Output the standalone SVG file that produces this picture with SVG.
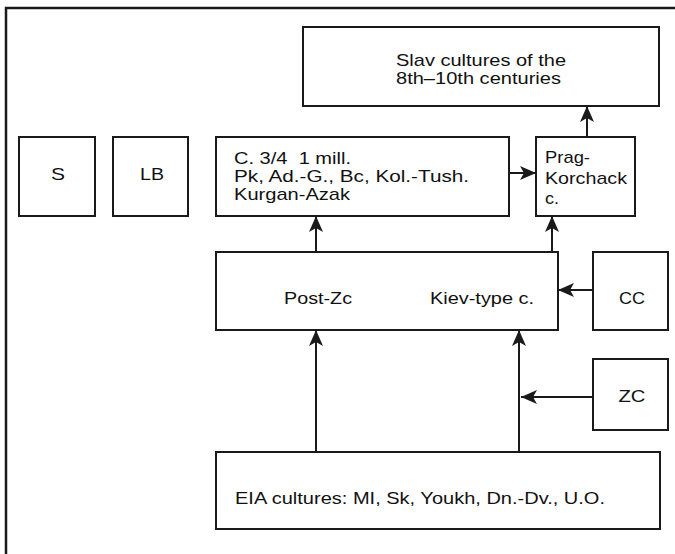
<svg xmlns="http://www.w3.org/2000/svg" width="675" height="554" viewBox="0 0 675 554">
<style>
.box{fill:#fff;stroke:#1a1a1a;stroke-width:2}
.frame{fill:none;stroke:#1a1a1a;stroke-width:2.5}
.t{font-family:"Liberation Sans",Arial,Helvetica,sans-serif;font-size:17px;fill:#111}
.m{text-anchor:middle}
.c{fill:none;stroke:#1a1a1a;stroke-width:2;marker-end:url(#ah)}
</style>
<defs>
<marker id="ah" markerUnits="userSpaceOnUse" markerWidth="17" markerHeight="14" refX="16" refY="7" orient="auto">
<path d="M0,0 L16,7 L0,14 L4,7 z" fill="#1a1a1a"/>
</marker>
</defs>
<rect width="675" height="554" fill="#fff"/>
<path class="frame" d="M6,554 V8 H675"/>
<g id="slav">
<rect class="box" x="303" y="27" width="356" height="79"/>
<text class="t" x="396" y="66" textLength="170" lengthAdjust="spacingAndGlyphs">Slav cultures of the</text>
<text class="t" x="396" y="84" textLength="165" lengthAdjust="spacingAndGlyphs">8th–10th centuries</text>
</g>
<g id="s">
<rect class="box" x="19" y="137" width="76" height="79"/>
<text class="t m" x="58" y="180" textLength="14" lengthAdjust="spacingAndGlyphs">S</text>
</g>
<g id="lb">
<rect class="box" x="113" y="137" width="75" height="79"/>
<text class="t m" x="152" y="180" textLength="24" lengthAdjust="spacingAndGlyphs">LB</text>
</g>
<g id="c34">
<rect class="box" x="216" y="137" width="293" height="79"/>
<text class="t" x="234" y="164" textLength="117" lengthAdjust="spacingAndGlyphs" xml:space="preserve">C. 3/4  1 mill.</text>
<text class="t" x="234" y="182" textLength="235" lengthAdjust="spacingAndGlyphs">Pk, Ad.-G., Bc, Kol.-Tush.</text>
<text class="t" x="234" y="200" textLength="116" lengthAdjust="spacingAndGlyphs">Kurgan-Azak</text>
</g>
<g id="prag">
<rect class="box" x="536" y="137" width="99" height="79"/>
<text class="t" x="545" y="163" textLength="45" lengthAdjust="spacingAndGlyphs">Prag-</text>
<text class="t" x="545" y="184" textLength="82" lengthAdjust="spacingAndGlyphs">Korchack</text>
<text class="t" x="545" y="204" textLength="14" lengthAdjust="spacingAndGlyphs">c.</text>
</g>
<g id="post">
<rect class="box" x="216" y="252" width="342" height="78"/>
<text class="t" x="284" y="304" textLength="68" lengthAdjust="spacingAndGlyphs">Post-Zc</text>
<text class="t" x="430" y="304" textLength="104" lengthAdjust="spacingAndGlyphs">Kiev-type c.</text>
</g>
<g id="cc">
<rect class="box" x="593" y="252" width="75" height="78"/>
<text class="t m" x="632" y="304" textLength="26" lengthAdjust="spacingAndGlyphs">CC</text>
</g>
<g id="zc">
<rect class="box" x="593" y="359" width="75" height="71"/>
<text class="t m" x="632" y="402" textLength="27" lengthAdjust="spacingAndGlyphs">ZC</text>
</g>
<g id="eia">
<rect class="box" x="216" y="452" width="444" height="77"/>
<text class="t" x="235" y="504" textLength="370" lengthAdjust="spacingAndGlyphs">EIA cultures: MI, Sk, Youkh, Dn.-Dv., U.O.</text>
</g>
<g id="connectors">
<path class="c" d="M587,137 V106"/>
<path class="c" d="M509,173 H536"/>
<path class="c" d="M316,252 V216"/>
<path class="c" d="M552,252 V216"/>
<path class="c" d="M593,290 H558"/>
<path class="c" d="M593,397 H521"/>
<path class="c" d="M316,452 V330"/>
<path class="c" d="M519,452 V330"/>
</g>
</svg>
